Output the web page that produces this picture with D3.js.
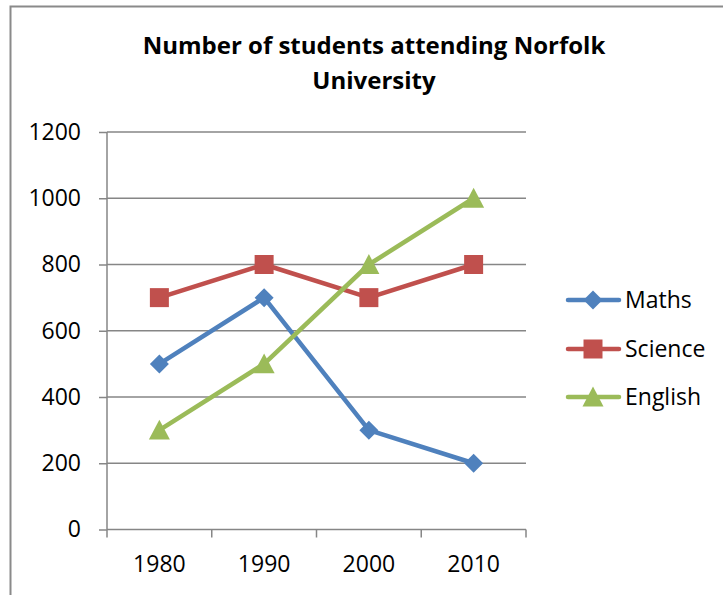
<!DOCTYPE html>
<html>
<head>
<meta charset="utf-8">
<script src="https://cdn.jsdelivr.net/npm/d3@7"></script>
<style>
  body { margin: 0; background: #fff; }
  text { font-family: "Open Sans", sans-serif; fill: #000; }
</style>
</head>
<body>
<script>
// Chart data
var years = ["1980", "1990", "2000", "2010"];
var maths = [500, 700, 300, 200];
var science = [700, 800, 700, 800];
var english = [300, 500, 800, 1000];
var yTicks = [0, 200, 400, 600, 800, 1000, 1200];
var seriesNames = ["Maths", "Science", "English"];
var seriesColors = ["#4F81BD", "#C0504D", "#9BBB59"];

// marker shapes, sized like the Excel ones (half-width r)
var diamond = { draw: function(ctx, r) { ctx.moveTo(0, -r); ctx.lineTo(r, 0); ctx.lineTo(0, r); ctx.lineTo(-r, 0); ctx.closePath(); } };
var square = { draw: function(ctx, r) { ctx.rect(-r, -r, 2 * r, 2 * r); } };
var triangle = { draw: function(ctx, r) { ctx.moveTo(0, -r); ctx.lineTo(r, r * 0.9); ctx.lineTo(-r, r * 0.9); ctx.closePath(); } };
var seriesShapes = [diamond, square, triangle];
var markerR = [9.5, 9.5, 10.5];

var svgWidth = 723;
var svgHeight = 595;

// plot area
var plot = { left: 107, right: 526, top: 132, bottom: 529.5 };

var svg = d3.select("body")
    .append("svg")
    .attr("width", svgWidth)
    .attr("height", svgHeight);

// chart frame (runs off the right and bottom of the picture)
svg.append("rect")
    .attr("x", 10.5)
    .attr("y", 6.5)
    .attr("width", 800)
    .attr("height", 700)
    .attr("fill", "none")
    .attr("stroke", "#8a8a8a")
    .attr("stroke-width", 2);

// title
var title = svg.append("text")
    .attr("text-anchor", "middle")
    .style("font-weight", "bold")
    .style("font-size", "24px");
title.append("tspan").attr("x", 374).attr("y", 54).text("Number of students attending Norfolk");
title.append("tspan").attr("x", 374).attr("y", 89).text("University");

var xScale = d3.scaleBand()
    .domain(years)
    .range([plot.left, plot.right]);

var yScale = d3.scaleLinear()
    .domain([0, 1200])
    .range([plot.bottom, plot.top]);

// gridlines
svg.append("g")
    .selectAll("line")
    .data(yTicks.filter(d => d > 0))
    .enter()
    .append("line")
    .attr("x1", plot.left)
    .attr("x2", plot.right)
    .attr("y1", d => yScale(d))
    .attr("y2", d => yScale(d))
    .attr("stroke", "#868686")
    .attr("stroke-width", 1.5);

// y axis
var leftAxis = d3.axisLeft(yScale).tickValues(yTicks).tickFormat(d3.format("d")).tickSize(8).tickPadding(18);
var yAxis = svg.append("g")
    .attr("transform", "translate(" + plot.left + ",0)")
    .call(leftAxis);

// x axis, ticks on category borders
var bottomAxis = d3.axisBottom(xScale).tickSize(0).tickPadding(26);
var xAxis = svg.append("g")
    .attr("transform", "translate(0," + plot.bottom + ")")
    .call(bottomAxis);

xAxis.selectAll(".border-tick")
    .data(years.map(d => xScale(d)).concat([plot.right]))
    .enter()
    .append("line")
    .attr("class", "border-tick")
    .attr("x1", d => d)
    .attr("x2", d => d)
    .attr("y1", 0)
    .attr("y2", 8)
    .attr("stroke", "#868686")
    .attr("stroke-width", 1.5);

[yAxis, xAxis].forEach(function(ax) {
    ax.selectAll(".domain").attr("stroke", "#868686").attr("stroke-width", 1.5);
    ax.selectAll(".tick line").attr("stroke", "#868686").attr("stroke-width", 1.5);
    ax.selectAll(".tick text")
        .style("font-size", "23px")
        .style("font-family", "'Open Sans', sans-serif")
        .attr("fill", "#000");
});
yAxis.select(".domain").attr("d", "M0," + plot.bottom + "V" + plot.top);
xAxis.select(".domain").attr("d", "M" + plot.left + ",0H" + plot.right);

// series
var seriesData = [maths, science, english];
var line = d3.line()
    .x((d, i) => xScale(years[i]) + xScale.bandwidth() / 2)
    .y(d => yScale(d));

seriesData.forEach(function(values, s) {
    svg.append("path")
        .datum(values)
        .attr("d", line)
        .attr("fill", "none")
        .attr("stroke", seriesColors[s])
        .attr("stroke-width", 4.5)
        .attr("stroke-linejoin", "round")
        .attr("stroke-linecap", "round");
});

seriesData.forEach(function(values, s) {
    svg.append("g")
        .selectAll("path")
        .data(values)
        .enter()
        .append("path")
        .attr("transform", (d, i) => "translate(" + (xScale(years[i]) + xScale.bandwidth() / 2) + "," + yScale(d) + ")")
        .attr("d", d3.symbol().type(seriesShapes[s]).size(markerR[s]))
        .attr("fill", seriesColors[s]);
});

// legend
var legendY = [300, 349, 397];
var legend = svg.append("g");
seriesNames.forEach(function(name, s) {
    var g = legend.append("g").attr("transform", "translate(0," + legendY[s] + ")");
    g.append("line")
        .attr("x1", 568)
        .attr("x2", 619)
        .attr("y1", 0)
        .attr("y2", 0)
        .attr("stroke", seriesColors[s])
        .attr("stroke-width", 4.5)
        .attr("stroke-linecap", "round");
    g.append("path")
        .attr("transform", "translate(593,0)")
        .attr("d", d3.symbol().type(seriesShapes[s]).size(markerR[s]))
        .attr("fill", seriesColors[s]);
    g.append("text")
        .attr("x", 625)
        .attr("y", 8)
        .style("font-size", "23px")
        .text(name);
});
</script>
</body>
</html>
